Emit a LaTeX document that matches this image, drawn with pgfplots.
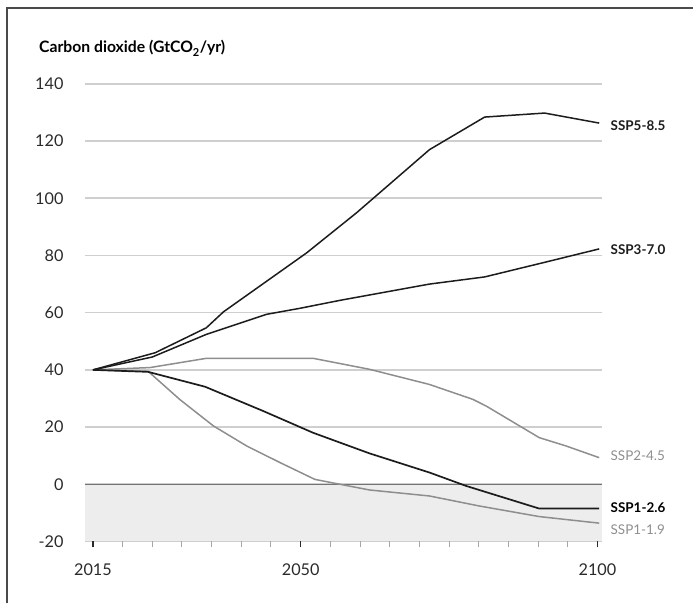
\documentclass[border=0pt]{standalone}
\usepackage{fontspec}
\setmainfont{Lato}
\usepackage{pgfplots}
\pgfplotsset{compat=1.18}
\definecolor{darkline}{HTML}{1C1C1C}
\definecolor{grayline}{HTML}{8E8E8E}
\definecolor{gridgray}{HTML}{CFCFCF}
\definecolor{shadegray}{HTML}{EDEDED}
\definecolor{framegray}{HTML}{4A4A4A}
\definecolor{ticktext}{HTML}{2A2A2A}
\begin{document}
\begin{tikzpicture}[x=1bp,y=1bp]
\path (0,0) rectangle (694,604);
\draw[color=framegray, line width=1.4bp] (7,0) -- (7,596) -- (694,596);
\node[anchor=base west, inner sep=0pt, text=black, font=\fontsize{15.8}{18}\selectfont\bfseries] at (39,551) {Carbon dioxide (GtCO\textsubscript{2}/yr)};
\begin{axis}[
  set layers,
  at={(85bp,62bp)}, anchor=south west,
  scale only axis, width=518bp, height=458bp,
  xmin=2013.65, xmax=2100.84, ymin=-20, ymax=140,
  clip=false,
  axis line style={draw=none},
  xtick={2015,2050,2100},
  minor xtick={2020,2025,...,2045,2055,2060,...,2095},
  ytick={-20,0,...,140},
  ymajorgrids,
  grid style={line width=1.6bp, color=gridgray},
  tick align=outside,
  xtick pos=lower,
  major x tick style={draw=ticktext, line width=1.2bp},
  minor x tick style={draw=gray!70, line width=1bp},
  major tick length=6bp, minor tick length=6bp,
  ytick style={draw=none},
  /pgf/number format/1000 sep={},
  /pgf/number format/assume math mode=true,
  ticklabel style={font=\fontsize{16.3}{18}\selectfont, text=ticktext},
  yticklabel style={anchor=east, xshift=-12bp},
  xticklabel style={yshift=-13bp},
]
\begin{pgfonlayer}{axis background}
\fill[shadegray] (axis cs:2013.65,-20) rectangle (axis cs:2100.84,0);
\end{pgfonlayer}
\draw[color=gray!90!black, line width=1.3bp] (axis cs:2013.65,0) -- (axis cs:2100.84,0);

% SSP2-4.5
\addplot[grayline, line width=1.5bp] coordinates {
(2015,40) (2024.6,40.8) (2034,44.0) (2052.2,44.0) (2061.6,40.2) (2071.7,34.9) (2079,29.7) (2081.3,27.3) (2090.2,16.3) (2094.7,13.4) (2100.3,9.3)};
% SSP1-1.9
\addplot[grayline, line width=1.5bp] coordinates {
(2015,40) (2024.3,39.5) (2029.6,29.7) (2035.3,20.4) (2040.9,13.4) (2046.5,7.6) (2052.4,1.7) (2056.6,0.0) (2061.6,-2.0) (2071.7,-4.1) (2080.1,-7.6) (2090.2,-11.3) (2100.3,-13.6)};
% SSP3-7.0
\addplot[darkline, line width=1.5bp] coordinates {
(2015,40) (2025,44.5) (2034.1,52.4) (2044.2,59.4) (2049.8,61.5) (2056.6,64.3) (2071.7,70.0) (2081,72.5) (2091.1,77.6) (2100.3,82.3)};
% SSP5-8.5
\addplot[darkline, line width=1.5bp] coordinates {
(2015,40) (2025.5,46.0) (2034.1,54.7) (2037,60.3) (2051,80.9) (2059.4,94.9) (2071.7,117) (2081,128.4) (2091.1,129.8) (2100.3,126.3)};
% SSP1-2.6
\addplot[darkline, line width=1.7bp] coordinates {
(2015,40) (2024.3,39.3) (2033.9,34.1) (2043.7,25.6) (2052.1,18.0) (2061.6,10.8) (2071.7,4.1) (2077.9,-0.6) (2090.2,-8.5) (2100.3,-8.5)};

\node[anchor=west, inner sep=0pt, font=\fontsize{13.5}{15}\selectfont\bfseries, text=darkline] at (axis cs:2102.2,125.3) {SSP5-8.5};
\node[anchor=west, inner sep=0pt, font=\fontsize{13.5}{15}\selectfont\bfseries, text=darkline] at (axis cs:2102.2,82) {SSP3-7.0};
\node[anchor=west, inner sep=0pt, font=\fontsize{13.5}{15}\selectfont, text=grayline] at (axis cs:2102.2,9.9) {SSP2-4.5};
\node[anchor=west, inner sep=0pt, font=\fontsize{13.5}{15}\selectfont\bfseries, text=black] at (axis cs:2102.2,-8.1) {SSP1-2.6};
\node[anchor=west, inner sep=0pt, font=\fontsize{13.5}{15}\selectfont, text=grayline] at (axis cs:2102.2,-15.95) {SSP1-1.9};
\end{axis}
\end{tikzpicture}
\end{document}
